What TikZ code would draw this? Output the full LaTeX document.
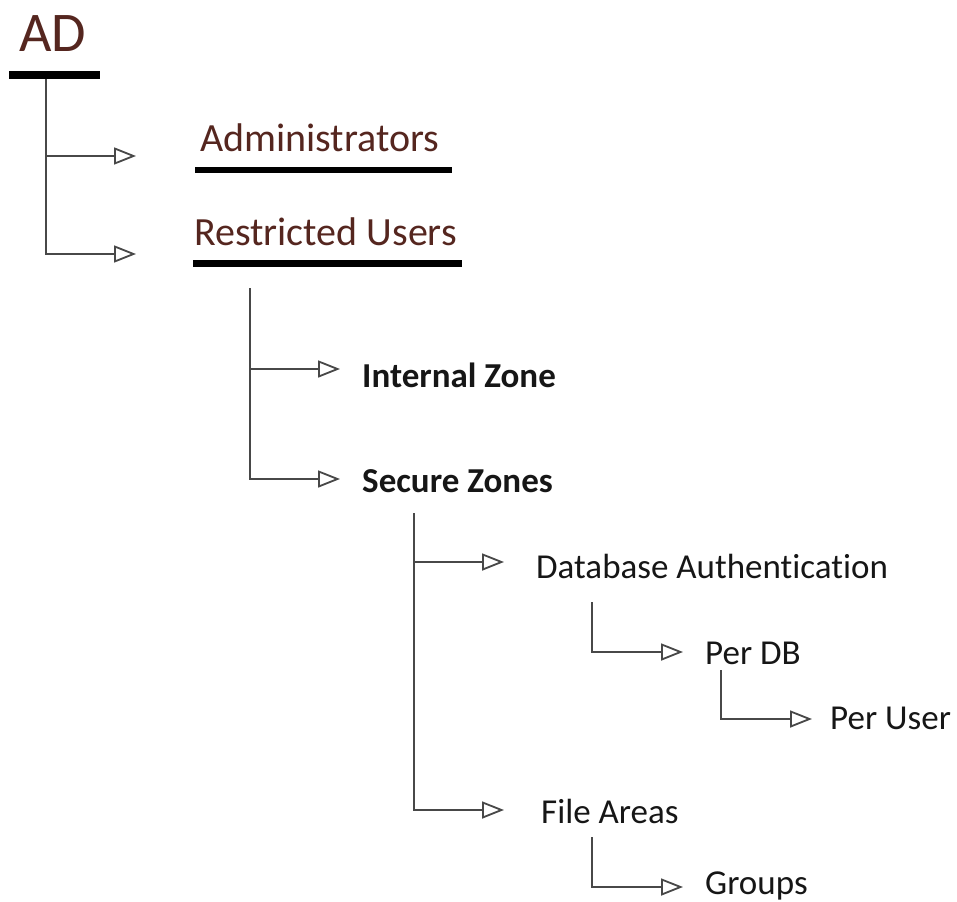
\documentclass[tikz,border=0pt]{standalone}
\usepackage{fontspec}
\setmainfont{Carlito}[RawFeature={-liga}]
\usetikzlibrary{arrows.meta}
\definecolor{titlebrown}{HTML}{55261F}
\definecolor{linegray}{HTML}{484848}
\definecolor{textdark}{HTML}{161616}
\begin{document}
\begin{tikzpicture}[x=1pt,y=-1pt,
  lbl/.style={anchor=base west, inner sep=0pt, text=textdark,
              font=\fontsize{35}{42}\selectfont},
  boldlbl/.style={lbl, font=\fontsize{35}{42}\selectfont\bfseries},
  head/.style={anchor=base west, inner sep=0pt, text=titlebrown,
               font=\fontsize{40}{48}\selectfont},
  rulebar/.style={draw=black, line cap=butt},
  link/.style={draw=linegray, line width=2.3pt,
               -{Triangle[open, length=22pt, width=17pt, line width=1.8pt]}}
]
\useasboundingbox (0,0) rectangle (957,901);

% --- labels ---
\node[head, font=\fontsize{56}{62}\selectfont] (ad) at (19,52) {AD};
\node[head] (admins) at (200,152) {Administrators};
\node[head] (restricted) at (194,245) {Restricted Users};
\node[boldlbl] (internal) at (362,387) {Internal Zone};
\node[boldlbl] (secure) at (362,492) {Secure Zones};
\node[lbl] (dbauth) at (536,578) {Database Authentication};
\node[lbl] (perdb) at (705,664) {Per DB};
\node[lbl] (peruser) at (830,729) {Per User};
\node[lbl] (files) at (541,823) {File Areas};
\node[lbl] (groups) at (705,894) {Groups};

% --- heavy underlines ---
\draw[rulebar, line width=8pt] (9,75) -- (100,75);
\draw[rulebar, line width=6pt] (195,170) -- (452,170);
\draw[rulebar, line width=7pt] (193,263) -- (462,263);

% --- branch roots ---
\coordinate (adroot) at (46,79);
\coordinate (rsroot) at (250,288);
\coordinate (szroot) at (414,513);
\coordinate (dbroot) at (592,602);
\coordinate (pdroot) at (721,670);
\coordinate (faroot) at (592,837);

% --- arrow ends ---
\coordinate (toadmins) at (136,156);
\coordinate (torestricted) at (136,254);
\coordinate (tointernal) at (340,369);
\coordinate (tosecure) at (340,479);
\coordinate (todbauth) at (504,562);
\coordinate (tofiles) at (504,810);
\coordinate (toperdb) at (683,652);
\coordinate (toperuser) at (812,719);
\coordinate (togroups) at (683,887);

% --- connectors ---
\draw[link] (adroot) |- (toadmins);
\draw[link] (adroot) |- (torestricted);
\draw[link] (rsroot) |- (tointernal);
\draw[link] (rsroot) |- (tosecure);
\draw[link] (szroot) |- (todbauth);
\draw[link] (szroot) |- (tofiles);
\draw[link] (dbroot) |- (toperdb);
\draw[link] (pdroot) |- (toperuser);
\draw[link] (faroot) |- (togroups);
\end{tikzpicture}
\end{document}
